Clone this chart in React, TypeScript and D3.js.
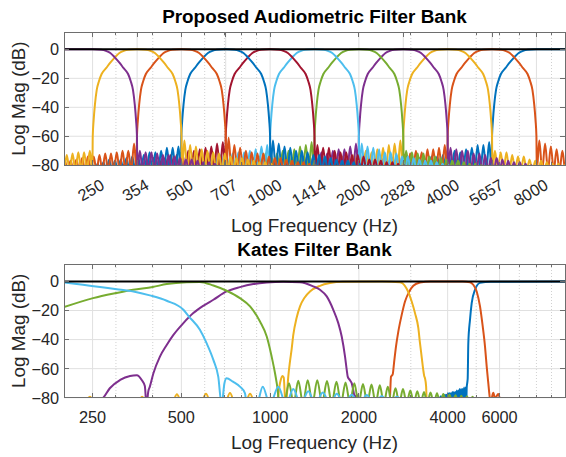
import React, {useEffect} from "react";
import * as d3 from "d3";

type Pt = [number, number];

// MATLAB default colour order
const blue = "#0072BD";
const orange = "#D95319";
const yellow = "#EDB120";
const purple = "#7E2F8E";
const green = "#77AC30";
const lightBlue = "#4DBEEE";
const red = "#A2142F";

const freqDomain = [200, 10000];
const dbDomain = [-80, 12];
const dbTicks = [0, -20, -40, -60, -80];
const nullDb = -84;

// ---------------- Proposed audiometric filter bank ----------------
const proposedTicks = [250, 354, 500, 707, 1000, 1414, 2000, 2828, 4000, 5657, 8000];
const proposedMinor = [300, 400, 600, 700, 800, 900, 3000, 5000, 6000, 7000, 9000];
// plotted from highest to lowest band
const proposedCentres = [8000, 5657, 4000, 2828, 2000, 1414, 1000, 707, 500, 354, 250];
const proposedKinds = ["high", "band", "band", "band", "band", "band", "band", "band", "band", "band", "low"];
const proposedColours = [blue, orange, yellow, purple, green, lightBlue, red, blue, orange, yellow, purple];
// half main lobe, octaves away from the band centre
const bandShapeOct = [0, 0.1, 0.15, 0.2, 0.25, 0.3, 0.35, 0.4, 0.43, 0.455, 0.475, 0.49, 0.5];
const bandShapeDb = [0, -0.3, -1, -2.5, -5.5, -9, -13, -17, -22, -28, -38, -49, -60];
const rippleOct = 0.065;
// side lobe peaks (dB), going outward from the -60 dB edges
const proposedLowerLobes = [
  [-64, -66, -66, -68, -69, -71, -70, -72, -73, -74, -74, -76, -75, -77, -78, -78, -79, -80],
  [-66, -68, -69, -69, -71, -70, -72, -73, -73, -75, -76, -75, -77, -78, -78, -79, -80, -80],
  [-63, -65, -66, -68, -69, -71, -70, -72, -73, -74, -74, -76, -77, -76, -78, -79, -79, -80],
  [-65, -67, -69, -69, -70, -72, -71, -73, -74, -74, -76, -75, -77, -78, -78, -79, -80, -80],
  [-64, -66, -67, -69, -70, -70, -72, -73, -72, -74, -75, -76, -76, -78, -77, -79, -79, -80],
  [-66, -67, -69, -70, -71, -71, -72, -74, -73, -75, -76, -75, -77, -78, -78, -79, -80, -80],
  [-64, -65, -67, -68, -69, -70, -70, -72, -73, -73, -75, -76, -75, -77, -78, -78, -79, -79],
  [-67, -68, -68, -70, -71, -71, -73, -74, -74, -75, -76, -77, -76, -78, -79, -79, -80, -80],
  [-65, -70, -70, -71, -72, -72, -73, -74, -74, -75, -76, -77, -77, -78, -78, -79, -79, -80],
  [-70, -71, -71, -72, -73, -73, -74, -75, -75, -76, -77],
  [],
];
const proposedUpperLobes = [
  [],
  [-63, -65, -67, -69, -70, -71, -72, -74, -73, -75, -76],
  [-70, -71, -71, -73, -74, -74, -76, -77, -77, -78, -79, -79, -80],
  [-68, -69, -70, -70, -72, -72, -73, -75, -75, -76, -77, -78, -78, -79, -80],
  [-70, -71, -72, -72, -74, -74, -75, -76, -77, -77, -78, -79, -79, -80],
  [-65, -67, -68, -69, -71, -71, -72, -74, -74, -75, -76, -77, -77, -78, -79, -80],
  [-66, -68, -68, -70, -71, -71, -73, -73, -74, -76, -76, -77, -78, -78, -79, -80],
  [-63, -65, -67, -68, -70, -70, -71, -73, -73, -74, -75, -76, -77, -77, -78, -79, -80],
  [-61, -66, -68, -70, -71, -72, -72, -74, -75, -75, -76, -77, -78, -78, -79, -80],
  [-63, -66, -67, -69, -70, -71, -72, -72, -74, -75, -75, -76, -77, -78, -78, -79],
  [-70, -71, -71, -72, -73, -73, -74, -75, -76, -76, -77, -78, -78, -79],
];

// ---------------- Kates filter bank ----------------
const katesTicks = [250, 500, 1000, 2000, 4000, 6000];
const katesMinor = [300, 400, 600, 700, 800, 900, 3000, 5000, 7000, 8000, 9000];
const katesBlueNoiseRange = [3700, 4600];
const katesBlueNoiseDb = [-80, -80, -79, -79, -78, -78, -78, -77, -77, -77, -76, -76, -76, -75, -75, -74, -74, -74, -73, -73];
const katesBlue: Pt[] = [[4642, -73], [4660, -70], [4678, -66.6], [4700, -42.5], [4762, -26.4], [4826, -14.9],
  [4952, -5.7], [5150, -1], [5600, -0.2], [10000, 0]];
const katesOrange: Pt[] = [[2530, -86], [2550, -79.3], [2570, -65.5], [2604, -64], [2631, -56.3], [2672, -44.8],
  [2721, -34.5], [2794, -23], [2867, -13.8], [2965, -6.9], [3059, -3], [3223, -0.7], [3500, 0], [4500, 0],
  [4762, -0.5], [4886, -2.3], [5018, -6.9], [5150, -17.2], [5260, -31], [5355, -44.8], [5426, -58.6],
  [5494, -70], [5537, -77], [5598, -84], [5650, -80], [5713, -76.6], [5800, -81], [5860, -79], [5940, -77.5], [6050, -84]];
const katesYellow: Pt[] = [[234, -86], [245, -79.3], [257, -86], [351, -86], [368, -79.3], [386, -86],
  [461, -86], [483, -77.7], [506, -86], [578, -86], [606, -77.2], [635, -86], [698, -86], [731, -76.8],
  [766, -86], [816, -86], [855, -77.2], [896, -86], [1050, -86], [1080, -70], [1100, -65], [1112, -66],
  [1123, -80], [1130, -86], [1138, -80], [1153, -65], [1168, -55], [1184, -46], [1198, -37], [1230, -25],
  [1263, -17.2], [1310, -11], [1365, -6.9], [1476, -3], [1596, -1.1], [1767, -0.2], [2400, 0], [2757, -0.5],
  [2905, -5], [3021, -13.8], [3100, -21.8], [3181, -32], [3223, -42.5], [3266, -52], [3307, -61],
  [3330, -65], [3351, -66.6], [3380, -72], [3396, -86]];
const katesPurple: Pt[] = [[255, -86], [272, -80], [286, -73.5], [310, -67.8], [335, -65], [353, -64.5],
  [367, -67.8], [376, -72], [381, -86], [386, -76], [391, -72.4], [402, -63.2], [423, -51.7], [446, -43.7],
  [470, -36.8], [508, -28.7], [549, -21.8], [593, -16.8], [642, -12.6], [712, -6.9], [790, -3.9], [877, -1.8],
  [974, -0.7], [1108, -0.2], [1263, -0.5], [1401, -3.4], [1476, -5.7], [1556, -10.3], [1638, -19.5],
  [1703, -28.7], [1749, -37.9], [1795, -51.7], [1819, -60.9], [1833, -65.5], [1866, -68], [1891, -70],
  [1915, -75], [1940, -80], [1970, -78], [2000, -86]];
const katesGreen: Pt[] = [[200, -17.7], [251, -11.5], [300, -8], [343, -5.7], [400, -3.8], [446, -1.8],
  [521, -0.5], [578, -0.3], [642, -2.8], [712, -6.4], [790, -11.5], [855, -17.2], [924, -27.6], [974, -37.9],
  [1012, -51.7], [1039, -63.2], [1061, -74.7], [1075, -86]];
const katesGreenLobeHz = [1159, 1246, 1341, 1445, 1559, 1679, 1802, 1930, 2065, 2207, 2355, 2507, 2662,
  2822, 2988, 3156, 3326, 3499, 3681, 3866, 4058, 4253, 4450, 4652, 4857];
const katesGreenLobeDb = [-70, -68.3, -68, -68, -68.5, -69, -69.5, -70, -70.5, -71, -71.5, -72.5, -73.5,
  -74, -75, -75.5, -76, -76.5, -77, -77.5, -78, -78.3, -78.6, -79, -79.3];
const katesLightBlue: Pt[] = [[200, -0.7], [232, -2.3], [265, -3.9], [302, -5.3], [344, -6.9], [391, -9.6],
  [446, -13.3], [508, -19.5], [528, -23.7], [578, -33.3], [609, -42.5], [642, -54], [667, -65.5], [685, -85],
  [700, -70], [712, -66.6], [748, -69], [790, -72.4], [822, -77], [833, -85], [900, -85], [944, -72.4],
  [999, -85], [1066, -72.4], [1132, -85], [1198, -74], [1270, -85], [1347, -75.6], [1425, -85], [1508, -76.5],
  [1600, -85], [1682, -77.2], [1785, -85], [1891, -78], [2005, -85], [2126, -78.2], [2255, -85], [2390, -78.8],
  [2540, -85], [2690, -79.3], [2850, -85]];
const sumDb: Pt[] = [[200, 0], [10000, 0]];

// ---------------- curve builders ----------------
function proposedCurve(i: number): Pt[] {
  const c = proposedCentres[i];
  const at = (oct: number, db: number): Pt => [c * Math.pow(2, oct), db];
  const edge = bandShapeOct[bandShapeOct.length - 1];
  const lower = proposedLowerLobes[i];
  const upper = proposedUpperLobes[i];
  const pts: Pt[] = [];
  if (proposedKinds[i] === "low") {
    pts.push([freqDomain[0], 0]);
  } else {
    for (let k = lower.length - 1; k >= 0; k--) {
      pts.push(at(-edge - (k + 1) * rippleOct, nullDb));
      pts.push(at(-edge - (k + 0.5) * rippleOct, lower[k]));
    }
    pts.push(at(-edge - 0.004, nullDb));
    for (let k = bandShapeOct.length - 1; k > 0; k--) pts.push(at(-bandShapeOct[k], bandShapeDb[k]));
  }
  pts.push(at(0, 0));
  if (proposedKinds[i] === "high") {
    pts.push([freqDomain[1], 0]);
  } else {
    for (let k = 1; k < bandShapeOct.length; k++) pts.push(at(bandShapeOct[k], bandShapeDb[k]));
    pts.push(at(edge + 0.004, nullDb));
    upper.forEach((db, k) => {
      pts.push(at(edge + (k + 0.5) * rippleOct, db));
      pts.push(at(edge + (k + 1) * rippleOct, nullDb));
    });
  }
  return pts;
}

function ripples(peaksHz: number[], peaksDb: number[]): Pt[] {
  const pts: Pt[] = [];
  const n = peaksHz.length;
  peaksHz.forEach((f, i) => {
    const prev = i > 0 ? peaksHz[i - 1] : (f * f) / peaksHz[1];
    pts.push([Math.sqrt(prev * f), nullDb]);
    pts.push([f, peaksDb[i]]);
  });
  const last = peaksHz[n - 1];
  pts.push([last * Math.sqrt(last / peaksHz[n - 2]), nullDb]);
  return pts;
}

const blueNoiseHz = katesBlueNoiseDb.map((_, i) =>
  katesBlueNoiseRange[0] * Math.pow(katesBlueNoiseRange[1] / katesBlueNoiseRange[0], i / (katesBlueNoiseDb.length - 1)));

const proposedCurves = proposedCentres.map((_, i) => ({points: proposedCurve(i), colour: proposedColours[i]}));
const katesCurves = [
  {points: [...ripples(blueNoiseHz, katesBlueNoiseDb), ...katesBlue], colour: blue},
  {points: katesOrange, colour: orange},
  {points: katesYellow, colour: yellow},
  {points: katesPurple, colour: purple},
  {points: [...katesGreen, ...ripples(katesGreenLobeHz, katesGreenLobeDb)], colour: green},
  {points: katesLightBlue, colour: lightBlue},
];

// ---------------- layout ----------------
const width = 566;
const height = 457;
const plotLeft = 64;
const plotRight = 565;
const font = "'Liberation Sans', Arial, Helvetica, sans-serif";
const tickSize = "16.3px";
const labelSize = "18.9px";
const axisColour = "#262626";

function FilterPanel({id, top, bottom, title, titleY, xLabelY, ticks, minorTicks, rotate, curves}) {
  useEffect(() => {
    const g = d3.select(`#${id}`);
    g.selectAll("*").remove();
    const x = d3.scaleLog().domain(freqDomain).range([plotLeft, plotRight]);
    const y = d3.scaleLinear().domain(dbDomain).range([bottom, top]);

    g.append("clipPath").attr("id", `${id}-clip`)
      .append("rect")
      .attr("x", plotLeft).attr("y", top)
      .attr("width", plotRight - plotLeft).attr("height", bottom - top);

    // grid
    const grid = g.append("g");
    grid.selectAll(".minor").data(minorTicks).join("line")
      .attr("x1", d => x(d)).attr("x2", d => x(d))
      .attr("y1", top).attr("y2", bottom)
      .attr("stroke", "#c4c4c4").attr("stroke-width", 0.8)
      .attr("stroke-dasharray", "1,2");
    grid.selectAll(".major").data(ticks).join("line")
      .attr("x1", d => x(d)).attr("x2", d => x(d))
      .attr("y1", top).attr("y2", bottom)
      .attr("stroke", "#e0e0e0").attr("stroke-width", 1);
    grid.selectAll(".hgrid").data(dbTicks).join("line")
      .attr("x1", plotLeft).attr("x2", plotRight)
      .attr("y1", d => y(d)).attr("y2", d => y(d))
      .attr("stroke", "#e0e0e0").attr("stroke-width", 1);

    // curves
    const line = d3.line<Pt>()
      .x(d => x(d[0]))
      .y(d => y(d[1]))
      .curve(d3.curveMonotoneX);
    const plot = g.append("g").attr("clip-path", `url(#${id}-clip)`);
    plot.selectAll("path").data(curves).join("path")
      .attr("d", d => line(d.points))
      .attr("fill", "none")
      .attr("stroke", d => d.colour)
      .attr("stroke-width", 2)
      .attr("stroke-linejoin", "round");
    plot.append("path")
      .attr("d", line(sumDb))
      .attr("fill", "none")
      .attr("stroke", "#000")
      .attr("stroke-width", 2);

    // box and inward ticks
    const axes = g.append("g").attr("stroke", "#6e6e6e").attr("stroke-width", 1).attr("shape-rendering", "crispEdges");
    axes.append("rect")
      .attr("x", plotLeft).attr("y", top)
      .attr("width", plotRight - plotLeft).attr("height", bottom - top)
      .attr("fill", "none");
    const xTicks = [...ticks.map(t => [t, 5]), ...minorTicks.map(t => [t, 3])];
    xTicks.forEach(([t, len]) => {
      axes.append("line").attr("x1", x(t)).attr("x2", x(t)).attr("y1", bottom).attr("y2", bottom - len);
      axes.append("line").attr("x1", x(t)).attr("x2", x(t)).attr("y1", top).attr("y2", top + len);
    });
    dbTicks.forEach(t => {
      axes.append("line").attr("x1", plotLeft).attr("x2", plotLeft + 5).attr("y1", y(t)).attr("y2", y(t));
      axes.append("line").attr("x1", plotRight).attr("x2", plotRight - 5).attr("y1", y(t)).attr("y2", y(t));
    });

    // tick labels
    const labels = g.append("g").attr("font-family", font).attr("fill", axisColour);
    labels.selectAll(".ylab").data(dbTicks).join("text")
      .attr("x", plotLeft - 5)
      .attr("y", d => y(d))
      .attr("dy", "0.36em")
      .attr("text-anchor", "end")
      .attr("font-size", tickSize)
      .text(d => (d < 0 ? "\u2212" + Math.abs(d) : String(d)));
    if (rotate) {
      labels.selectAll(".xlab").data(ticks).join("text")
        .attr("transform", d => `translate(${x(d) + 10},${bottom + 18}) rotate(-30)`)
        .attr("dy", "0.36em")
        .attr("text-anchor", "end")
        .attr("font-size", tickSize)
        .text(d => d);
    } else {
      labels.selectAll(".xlab").data(ticks).join("text")
        .attr("x", d => x(d))
        .attr("y", bottom + 25.7)
        .attr("text-anchor", "middle")
        .attr("font-size", tickSize)
        .text(d => d);
    }
    labels.append("text")
      .attr("x", (plotLeft + plotRight) / 2)
      .attr("y", xLabelY)
      .attr("text-anchor", "middle")
      .attr("font-size", labelSize)
      .text("Log Frequency (Hz)");
    labels.append("text")
      .attr("transform", `translate(25.3,${(top + bottom) / 2}) rotate(-90)`)
      .attr("text-anchor", "middle")
      .attr("font-size", labelSize)
      .text("Log Mag (dB)");
    g.append("text")
      .attr("x", (plotLeft + plotRight) / 2)
      .attr("y", titleY)
      .attr("text-anchor", "middle")
      .attr("font-family", font)
      .attr("font-weight", "bold")
      .attr("font-size", labelSize)
      .attr("fill", "#000")
      .text(title);
  }, [id, top, bottom]);

  return <g id={id}/>;
}

export default function App() {
  return (
    <div style={{position: "absolute", left: 0, top: 0, width, height, background: "#fff"}}>
      <svg width={width} height={height} style={{display: "block"}}>
        <rect width={width} height={height} fill="#fff"/>
        <FilterPanel id="proposed" top={32} bottom={165.2} title="Proposed Audiometric Filter Bank"
          titleY={23.3} xLabelY={232} ticks={proposedTicks} minorTicks={proposedMinor} rotate={true}
          curves={proposedCurves}/>
        <FilterPanel id="kates" top={264} bottom={397.7} title="Kates Filter Bank"
          titleY={256} xLabelY={448.6} ticks={katesTicks} minorTicks={katesMinor} rotate={false}
          curves={katesCurves}/>
      </svg>
    </div>
  );
}
